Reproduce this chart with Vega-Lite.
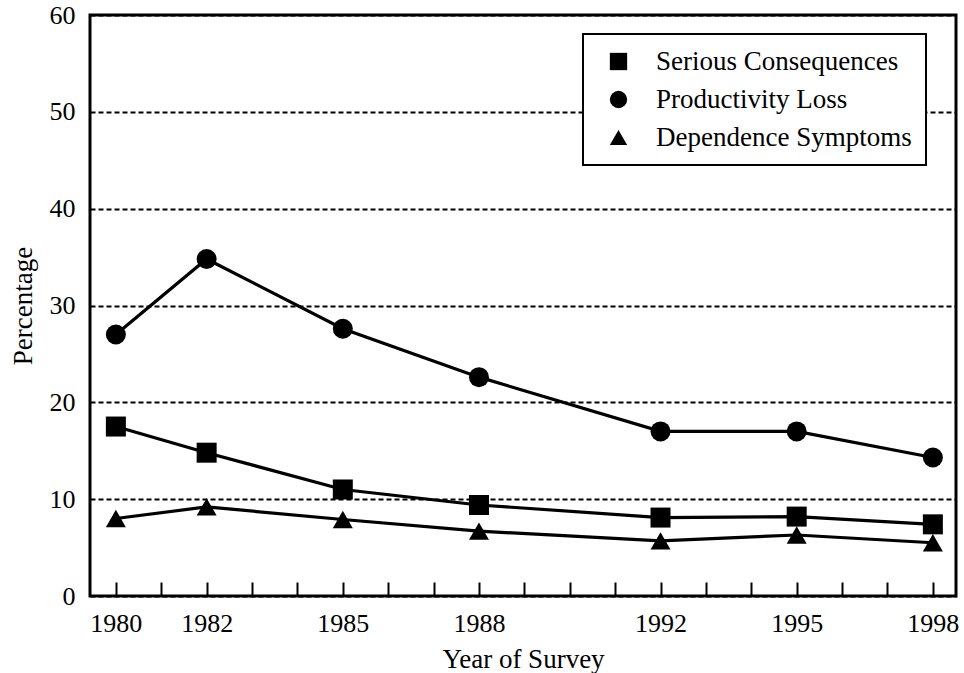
{
  "$schema": "https://vega.github.io/schema/vega-lite/v6.json",
  "width": 866,
  "height": 581,
  "autosize": {"type": "none"},
  "padding": {"left": 90, "top": 15, "right": 8, "bottom": 77},
  "background": "white",
  "config": {
    "font": "Liberation Serif",
    "view": {"stroke": "black", "strokeWidth": 3},
    "legend": {"strokeWidth": 2}
  },
  "data": {
    "values": [
      {"year": 1980, "series": "Serious Consequences", "value": 17.5},
      {"year": 1982, "series": "Serious Consequences", "value": 14.8},
      {"year": 1985, "series": "Serious Consequences", "value": 11.0},
      {"year": 1988, "series": "Serious Consequences", "value": 9.4},
      {"year": 1992, "series": "Serious Consequences", "value": 8.1},
      {"year": 1995, "series": "Serious Consequences", "value": 8.2},
      {"year": 1998, "series": "Serious Consequences", "value": 7.4},
      {"year": 1980, "series": "Productivity Loss", "value": 27.0},
      {"year": 1982, "series": "Productivity Loss", "value": 34.8},
      {"year": 1985, "series": "Productivity Loss", "value": 27.6},
      {"year": 1988, "series": "Productivity Loss", "value": 22.6},
      {"year": 1992, "series": "Productivity Loss", "value": 17.0},
      {"year": 1995, "series": "Productivity Loss", "value": 17.0},
      {"year": 1998, "series": "Productivity Loss", "value": 14.3},
      {"year": 1980, "series": "Dependence Symptoms", "value": 8.0},
      {"year": 1982, "series": "Dependence Symptoms", "value": 9.2},
      {"year": 1985, "series": "Dependence Symptoms", "value": 7.9},
      {"year": 1988, "series": "Dependence Symptoms", "value": 6.7},
      {"year": 1992, "series": "Dependence Symptoms", "value": 5.7},
      {"year": 1995, "series": "Dependence Symptoms", "value": 6.3},
      {"year": 1998, "series": "Dependence Symptoms", "value": 5.5}
    ]
  },
  "encoding": {
    "x": {
      "field": "year",
      "type": "quantitative",
      "scale": {"domain": [1979.43, 1998.51], "nice": false, "zero": false},
      "axis": {
        "title": "Year of Survey",
        "values": [1980, 1981, 1982, 1983, 1984, 1985, 1986, 1987, 1988, 1989, 1990, 1991, 1992, 1993, 1994, 1995, 1996, 1997, 1998],
        "labelExpr": "indexof([1980,1982,1985,1988,1992,1995,1998], datum.value) >= 0 ? format(datum.value, 'd') : ''",
        "grid": false,
        "domain": false,
        "ticks": true,
        "tickSize": -14,
        "tickWidth": 2,
        "tickColor": "black",
        "labelFontSize": 26,
        "labelColor": "black",
        "labelPadding": 28,
        "labelFlush": false,
        "labelOverlap": false,
        "titleFontSize": 27,
        "titleFontWeight": "normal",
        "titleColor": "black",
        "titlePadding": 10
      }
    },
    "y": {
      "field": "value",
      "type": "quantitative",
      "scale": {"domain": [0, 60], "nice": false},
      "axis": {
        "title": "Percentage",
        "values": [0, 10, 20, 30, 40, 50, 60],
        "format": "d",
        "grid": true,
        "gridDash": [5, 3],
        "gridColor": "black",
        "gridWidth": 2,
        "gridOpacity": 1,
        "domain": false,
        "ticks": false,
        "labelFontSize": 26,
        "labelColor": "black",
        "labelPadding": 15,
        "titleFontSize": 27,
        "titleFontWeight": "normal",
        "titleColor": "black",
        "titlePadding": 12
      }
    }
  },
  "layer": [
    {
      "mark": {"type": "line", "color": "black", "strokeWidth": 3.2},
      "encoding": {"detail": {"field": "series"}}
    },
    {
      "mark": {"type": "point", "filled": true, "color": "black", "opacity": 1, "size": 400},
      "encoding": {
        "shape": {
          "field": "series",
          "type": "nominal",
          "scale": {
            "domain": ["Serious Consequences", "Productivity Loss", "Dependence Symptoms"],
            "range": ["square", "circle", "triangle-up"]
          },
          "legend": {
            "title": null,
            "orient": "none",
            "legendX": 493,
            "legendY": 19,
            "fillColor": "white",
            "strokeColor": "black",
            "padding": 14,
            "symbolOffset": 8,
            "symbolSize": 300,
            "symbolFillColor": "black",
            "symbolStrokeColor": "black",
            "labelFontSize": 27,
            "labelColor": "black",
            "labelOffset": 24,
            "rowPadding": 10,
            "labelLimit": 400
          }
        }
      }
    }
  ]
}
